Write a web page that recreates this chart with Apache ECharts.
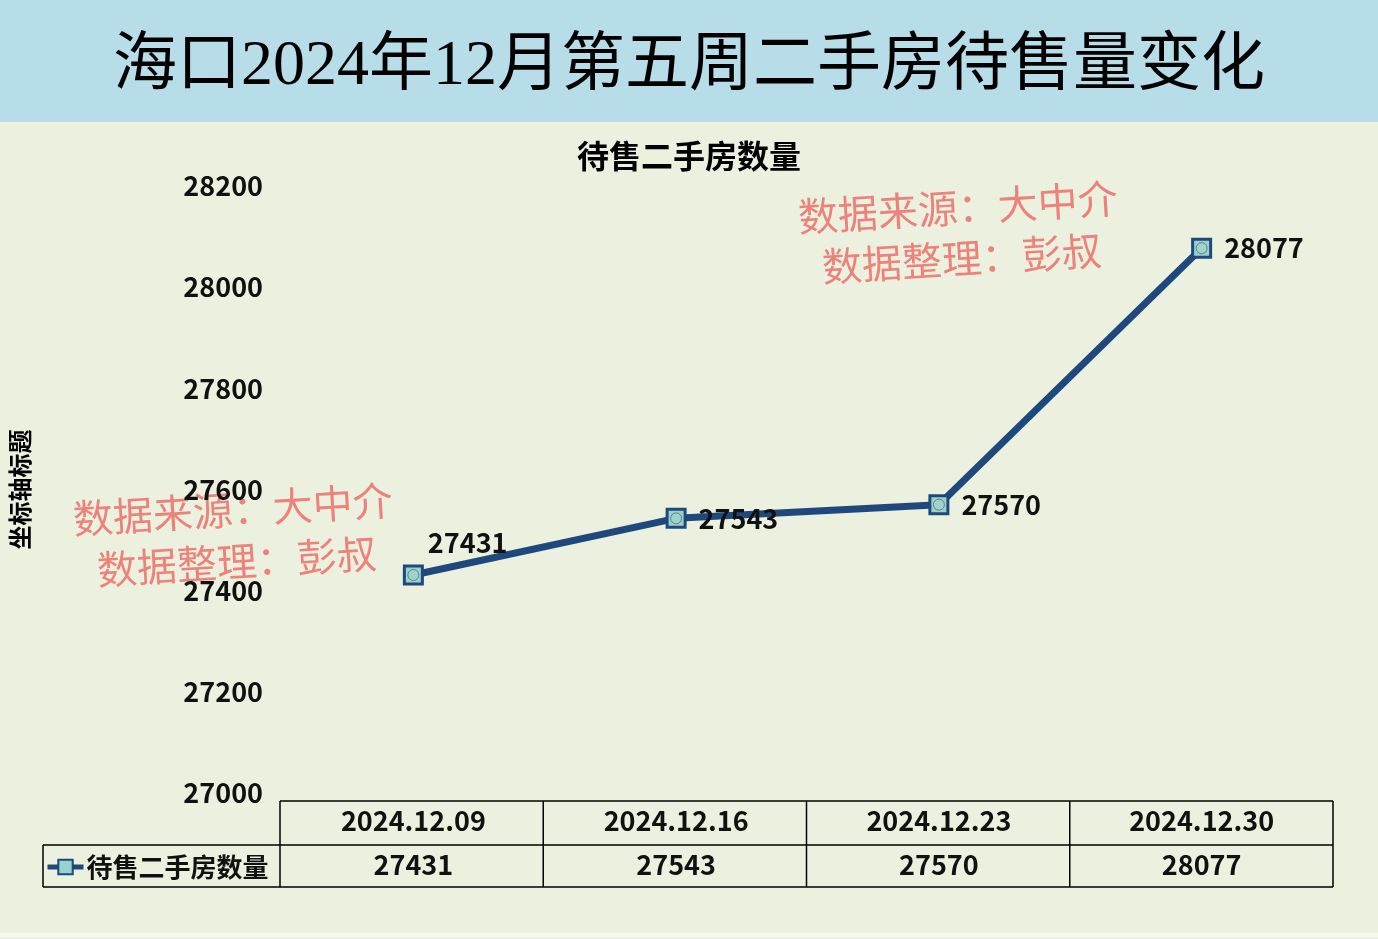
<!DOCTYPE html>
<html><head><meta charset="utf-8">
<script src="https://cdn.jsdelivr.net/npm/echarts@6/dist/echarts.min.js"></script>
<style>html,body{margin:0;padding:0;background:#ebf0df;}#c{width:1378px;height:939px;}</style>
</head><body><div id="c"></div>
<script>
const mainTitle = '海口2024年12月第五周二手房待售量变化';
const chartTitle = '待售二手房数量';
const seriesName = '待售二手房数量';
const yAxisName = '坐标轴标题';
const categories = ['2024.12.09', '2024.12.16', '2024.12.23', '2024.12.30'];
const values = [27431, 27543, 27570, 28077];
const yMin = 27000, yMax = 28200, yStep = 200;
const watermark1 = '数据来源：大中介';
const watermark2 = '数据整理：彭叔';

const W = 1378, H = 939;
const gL = 280, gR = 45, gT = 186, gB = 146;
const gridRight = W - gR, axisY = H - gB;
const tTop = 801, tMid = 845, tBot = 887, tLeft = 43;
const colW = (gridRight - gL) / categories.length;

const bold = "'Noto Sans CJK SC', 'Microsoft YaHei', sans-serif";
const serif = "'Liberation Serif', 'DejaVu Serif', 'Noto Sans CJK SC', serif";

const lineStyle = {stroke: '#000', lineWidth: 1.5};
const tableGraphics = [
  {type: 'line', shape: {x1: gL, y1: tTop, x2: gridRight, y2: tTop}, style: lineStyle},
  {type: 'line', shape: {x1: tLeft, y1: tMid, x2: gridRight, y2: tMid}, style: lineStyle},
  {type: 'line', shape: {x1: tLeft, y1: tBot, x2: gridRight, y2: tBot}, style: lineStyle},
  {type: 'line', shape: {x1: tLeft, y1: tMid, x2: tLeft, y2: tBot}, style: lineStyle}
];
for (let i = 0; i <= categories.length; i++) {
  const x = gL + i * colW;
  tableGraphics.push({type: 'line', shape: {x1: x, y1: tTop, x2: x, y2: tBot}, style: lineStyle});
}

function wm(cx, cy, text) {
  return {type: 'text', x: cx, y: cy, rotation: 0.06,
    style: {text: text, fill: 'rgba(236,112,104,0.85)', font: "40px " + serif, align: 'center', verticalAlign: 'middle'}};
}

const chart = echarts.init(document.getElementById('c'), null, {renderer: 'canvas'});
chart.setOption({
  backgroundColor: '#ebf0df',
  animation: false,
  title: [
    {text: mainTitle, left: 'center', top: 30,
     textStyle: {fontFamily: serif, fontSize: 64, fontWeight: 'normal', color: '#000'}},
    {text: chartTitle, left: 'center', top: 135,
     textStyle: {fontFamily: bold, fontSize: 32, fontWeight: 'bold', color: '#000'}}
  ],
  graphic: [
    {type: 'rect', z: -10, shape: {x: 0, y: 0, width: W, height: 122}, style: {fill: '#b7dde8'}},
    {type: 'rect', z: -10, shape: {x: 0, y: 933, width: W, height: 4}, style: {fill: '#f7f7f2'}},
    ...tableGraphics,
    wm(233, 514, watermark1), wm(237, 566, watermark2),
    wm(958, 212, watermark1), wm(962, 263, watermark2)
  ],
  legend: {
    left: 45, top: 854, itemWidth: 36, itemHeight: 18, itemGap: 8, padding: 0,
    lineStyle: {width: 5},
    data: [seriesName],
    textStyle: {fontFamily: bold, fontSize: 26, fontWeight: 'bold', color: '#111', padding: [0, 0, 0, -2]}
  },
  grid: {left: gL, right: gR, top: gT, bottom: gB, containLabel: false},
  xAxis: [
    {type: 'category', data: categories, boundaryGap: true,
     axisLine: {show: false}, axisTick: {show: false}, splitLine: {show: false},
     axisLabel: {margin: 14, fontFamily: bold, fontSize: 27, fontWeight: 'bold', color: '#111'}},
    {type: 'category', data: values.map(String), boundaryGap: true, position: 'bottom', offset: 44,
     axisLine: {show: false}, axisTick: {show: false}, splitLine: {show: false},
     axisLabel: {margin: 14, fontFamily: bold, fontSize: 27, fontWeight: 'bold', color: '#111'}}
  ],
  yAxis: {
    type: 'value', min: yMin, max: yMax, interval: yStep,
    name: yAxisName, nameLocation: 'middle', nameRotate: 90, nameGap: 250,
    nameTextStyle: {fontFamily: bold, fontSize: 24, fontWeight: 'bold', color: '#000'},
    axisLine: {show: false}, axisTick: {show: false}, splitLine: {show: false},
    axisLabel: {margin: 19, fontFamily: bold, fontSize: 27, fontWeight: 'bold', color: '#111',
      formatter: v => String(v)}
  },
  series: [
    {
      name: seriesName, type: 'line', xAxisIndex: 0,
      data: values.map((v, i) => i === 0 ? {value: v, label: {offset: [-8, -32]}} : v),
      symbol: 'rect', symbolSize: 18, z: 3,
      lineStyle: {color: '#1f497d', width: 7},
      itemStyle: {color: '#98d2cc', borderColor: '#1f497d', borderWidth: 3},
      label: {show: true, position: 'right', distance: 12, fontFamily: bold, fontSize: 27, fontWeight: 'bold', color: '#111'}
    },
    {
      type: 'scatter', xAxisIndex: 0, data: values, symbol: 'circle', symbolSize: 11,
      silent: true, z: 4,
      itemStyle: {color: '#9ed6d0', borderColor: '#666', borderWidth: 1}
    }
  ]
});
</script></body></html>
